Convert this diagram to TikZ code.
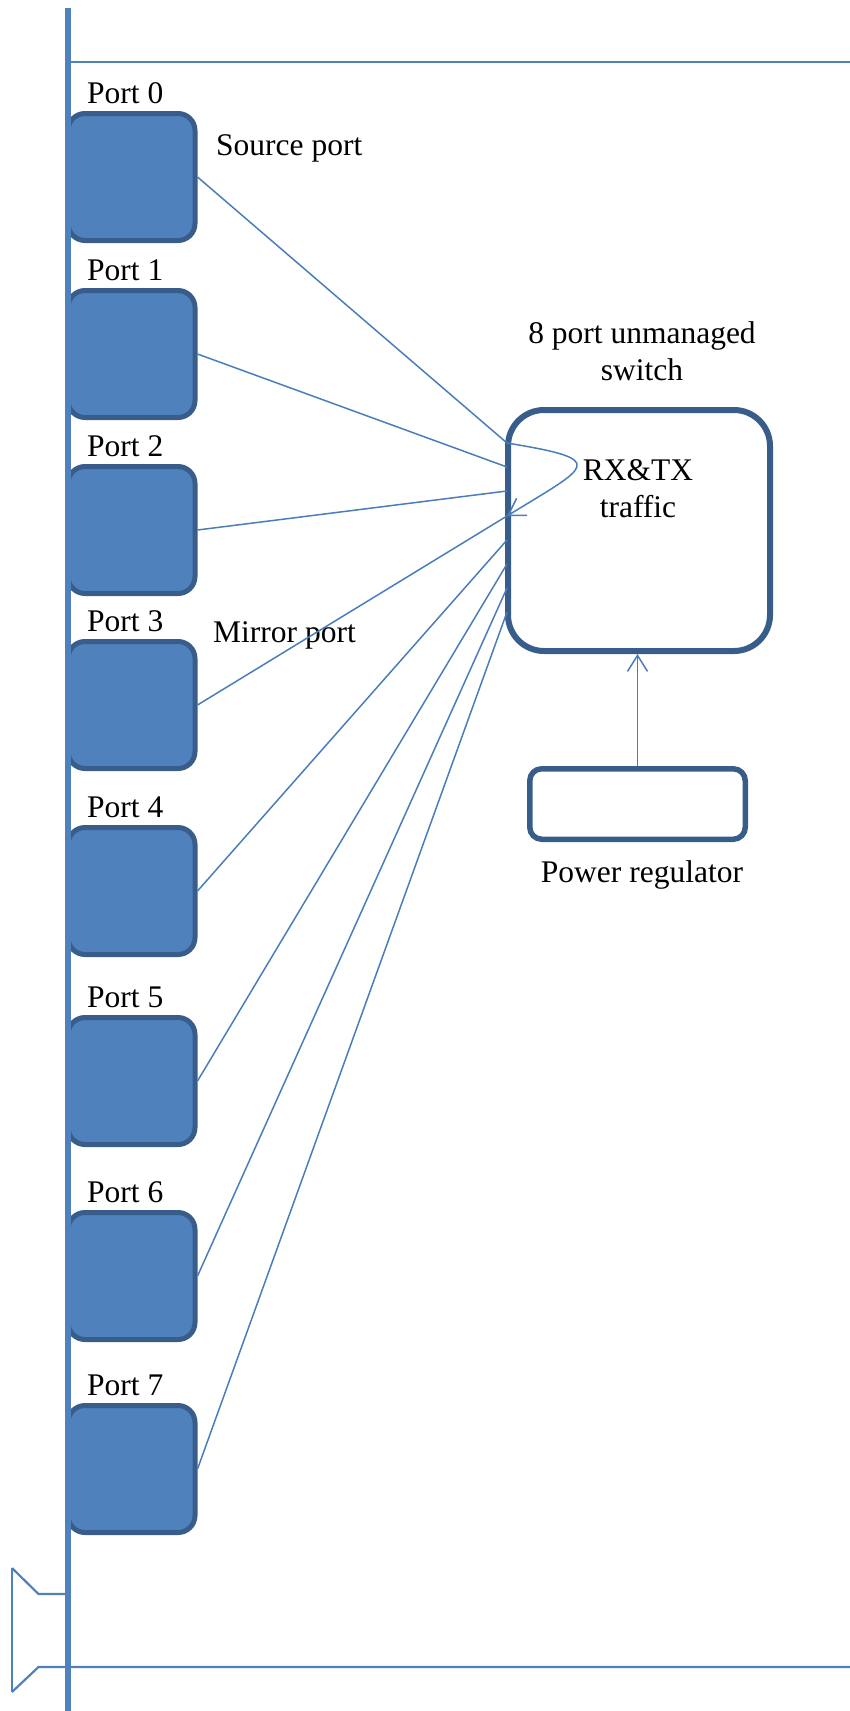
\documentclass[tikz,border=0pt]{standalone}
\usepackage{fontspec}
\setmainfont{LiberationSerif}[Extension=.ttf, UprightFont=*-Regular, BoldFont=*-Bold, ItalicFont=*-Italic, BoldItalicFont=*-BoldItalic]
\usetikzlibrary{arrows.meta,calc}
\definecolor{ofblue}{HTML}{4F81BD}
\definecolor{ofdark}{HTML}{385D8A}
\definecolor{lnblue}{HTML}{4A7EBB}
\begin{document}
\begin{tikzpicture}[x=1pt,y=-1pt,
  font=\rmfamily\fontsize{31.5}{37}\selectfont,
  portbox/.style={draw=ofdark, fill=ofblue, line width=5pt, rounded corners=17pt,
    minimum width=127pt, minimum height=127pt, inner sep=0pt},
  lbl/.style={anchor=base west, inner sep=0pt},
  ctext/.style={anchor=base, inner sep=0pt, align=center},
  wire/.style={draw=lnblue, line width=1.5pt},
  barb/.style={-{Straight Barb[length=16pt,width=20pt]}},
  switchbox/.style={draw=ofdark, line width=6pt, rounded corners=36pt,
    minimum width=262pt, minimum height=241pt, inner sep=0pt},
  powerbox/.style={draw=ofdark, line width=5.5pt, rounded corners=12pt,
    minimum width=215.5pt, minimum height=70.5pt, inner sep=0pt},
  rail/.style={draw=ofblue, line width=5.5pt},
  hline/.style={draw=ofblue, line width=2.2pt}]
\useasboundingbox (0,0) rectangle (850,1711);
% frame lines
\draw[hline] (68,62) -- (850,62);
\draw[hline] (12,1568) -- (12,1692);
\draw[hline] (12,1568) -- (38.5,1594) -- (68,1594);
\draw[hline] (12,1692) -- (38.5,1667) -- (850,1667);
% ports
\foreach \i/\y in {0/177,1/354,2/530,3/705,4/891,5/1081,6/1276,7/1469}{
  \node[portbox] (p\i) at (131.5,\y) {};
  \node[lbl] (l\i) at (87,{\y-74}) {Port \i};
}
% rail over the ports
\draw[rail] (68,8) -- (68,1711);
\node[lbl] (src) at (216,155) {Source port};
\node[lbl] (mir) at (213,642) {Mirror port};
% switch
\node[switchbox] (sw) at (639,530.5) {};
\node[ctext] (swl) at (642,380) {8 port unmanaged\\switch};
\node[ctext] (rx) at (638,517) {RX\&TX\\traffic};
% power regulator
\node[powerbox] (pw) at (637.5,804) {};
\node[ctext] (pwl) at (642,882) {Power regulator};
% wire end points on the switch
\foreach \i/\y in {0/443,1/467,2/491,3/516,4/540,5/564,6/588,7/612}{
  \coordinate (e\i) at (507,\y);
  \draw[wire] (p\i.east) -- (e\i);
}
\draw[wire, barb] (e0) .. controls (610,460) and (590,465) .. (e3);
\draw[wire, barb] (pw.north) -- (pw.north |- sw.south);
\end{tikzpicture}
\end{document}
